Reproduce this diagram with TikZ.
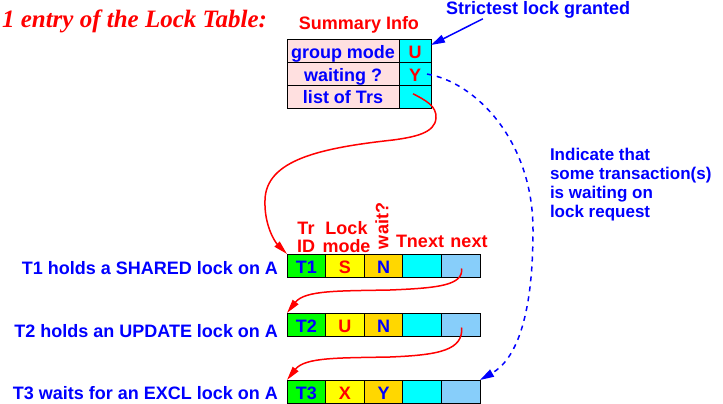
\documentclass[tikz,border=0pt]{standalone}
\usepackage{fontspec}
\setmainfont{Liberation Sans}
\newfontfamily\titlefont{Liberation Serif}
\usetikzlibrary{arrows.meta,calc}
\definecolor{cgreen}{RGB}{0,255,0}
\definecolor{cyellow}{RGB}{255,255,0}
\definecolor{cgold}{RGB}{255,215,0}
\definecolor{ccyan}{RGB}{0,255,255}
\definecolor{clblue}{RGB}{135,206,250}
\definecolor{cpink}{RGB}{255,224,224}
\definecolor{cblue}{RGB}{0,0,255}
\definecolor{cred}{RGB}{255,0,0}
\begin{document}
\begin{tikzpicture}[x=1pt,y=-1pt,
  every node/.style={font=\fontsize{18}{18}\selectfont\bfseries, inner sep=0pt, outer sep=0pt},
  cell/.style={draw=black, line width=1pt, anchor=north west, minimum height=23pt, text height=15pt, text depth=0pt},
  rcell/.style={cell, minimum width=38.6pt},
  scell/.style={cell, minimum height=22.7pt, text height=14pt},
  redarr/.style={draw=cred, line width=1.5pt, -{Triangle[length=14pt,width=7pt]}},
  bluearr/.style={draw=cblue, line width=1.5pt, -{Triangle[length=14pt,width=8pt]}},
  lbl/.style={text=cblue, anchor=base east},
  hdr/.style={text=cred, anchor=base},
]
\useasboundingbox[fill=white] (0,0) rectangle (723,404);

% title
\node[anchor=base west, text=cred, font=\titlefont\fontsize{25}{25}\selectfont\bfseries\itshape] (title) at (2,28) {1 entry of the Lock Table:};

% summary table
\node[hdr] (summ) at (359,30) {Summary Info};
\node[scell, fill=cpink, minimum width=112pt, text=cblue] (s1l) at (287,40) {group mode};
\node[scell, fill=ccyan, minimum width=32pt, text=cred] (s1v) at (s1l.north east) {U};
\node[scell, fill=cpink, minimum width=112pt, text=cblue] (s2l) at (s1l.south west) {waiting ?};
\node[scell, fill=ccyan, minimum width=32pt, text=cred] (s2v) at (s2l.north east) {Y};
\node[scell, fill=cpink, minimum width=112pt, text=cblue] (s3l) at (s2l.south west) {list of Trs};
\node[scell, fill=ccyan, minimum width=32pt] (s3v) at (s3l.north east) {};

\node[anchor=base west, text=cblue] (strict) at (446,15) {Strictest lock granted};
\draw[bluearr] ($(strict.south west)!0.2!(strict.south east)$) -- ($(s1v.north east)+(0,5)$);

% headers
\node[hdr] (htr) at (306,234) {Tr};
\node[hdr] (hid) at (306,252) {ID};
\node[hdr] (hlock) at (346.5,234) {Lock};
\node[hdr] (hmode) at (346.5,252) {mode};
\node[text=cred, rotate=90] (hwait) at (382,226) {wait?};
\node[hdr] (htnext) at (420,247) {Tnext};
\node[hdr] (hnext) at (469,247) {next};

% records
\node[rcell, fill=cgreen, text=cblue] (r1id) at (287,254) {T1};
\node[rcell, fill=cyellow, text=cred] (r1m) at (r1id.north east) {S};
\node[rcell, fill=cgold, text=cblue] (r1w) at (r1m.north east) {N};
\node[rcell, fill=ccyan] (r1tn) at (r1w.north east) {};
\node[rcell, fill=clblue] (r1next) at (r1tn.north east) {};

\node[rcell, fill=cgreen, text=cblue] (r2id) at (287,313) {T2};
\node[rcell, fill=cyellow, text=cred] (r2m) at (r2id.north east) {U};
\node[rcell, fill=cgold, text=cblue] (r2w) at (r2m.north east) {N};
\node[rcell, fill=ccyan] (r2tn) at (r2w.north east) {};
\node[rcell, fill=clblue] (r2next) at (r2tn.north east) {};

\node[rcell, fill=cgreen, text=cblue] (r3id) at (287,380) {T3};
\node[rcell, fill=cyellow, text=cred] (r3m) at (r3id.north east) {X};
\node[rcell, fill=cgold, text=cblue] (r3w) at (r3m.north east) {Y};
\node[rcell, fill=ccyan] (r3tn) at (r3w.north east) {};
\node[rcell, fill=clblue] (r3next) at (r3tn.north east) {};

% left labels
\node[lbl] (l1) at (278,274) {T1 holds a SHARED lock on A};
\node[lbl] (l2) at (278,337) {T2 holds an UPDATE lock on A};
\node[lbl] (l3) at (278,399) {T3 waits for an EXCL lock on A};

% note
\node[anchor=north west, align=left, text=cblue, font=\fontsize{17}{19}\selectfont\bfseries] (note) at (550,148)
  {Indicate that\\some transaction(s)\\is waiting on\\lock request};

% red pointers
\draw[redarr] ($(s3v.center)+(-2,-3)$) .. controls (425,100) and (437,106) .. (436,118)
  .. controls (435,133) and (415,137) .. (393,140)
  .. controls (320,148) and (266,160) .. (265,200)
  .. controls (264,225) and (275,242) .. (r1id.north west);
\draw[redarr] ($(r1next.center)+(1,3)$) .. controls (463,285) and (440,288) .. (390,290)
  .. controls (340,291) and (305,290) .. (r2id.north west);
\draw[redarr] ($(r2next.center)+(1,3)$) .. controls (463,350) and (440,355) .. (390,357)
  .. controls (340,358) and (305,357) .. (r3id.north west);

% dashed wait pointer
\draw[bluearr, dash pattern=on 5pt off 5pt] ($(s2v.east)+(-4,0)$) .. controls (475,82) and (533,140) .. (533,230)
  .. controls (533,320) and (515,360) .. (r3next.north east);
\end{tikzpicture}
\end{document}
